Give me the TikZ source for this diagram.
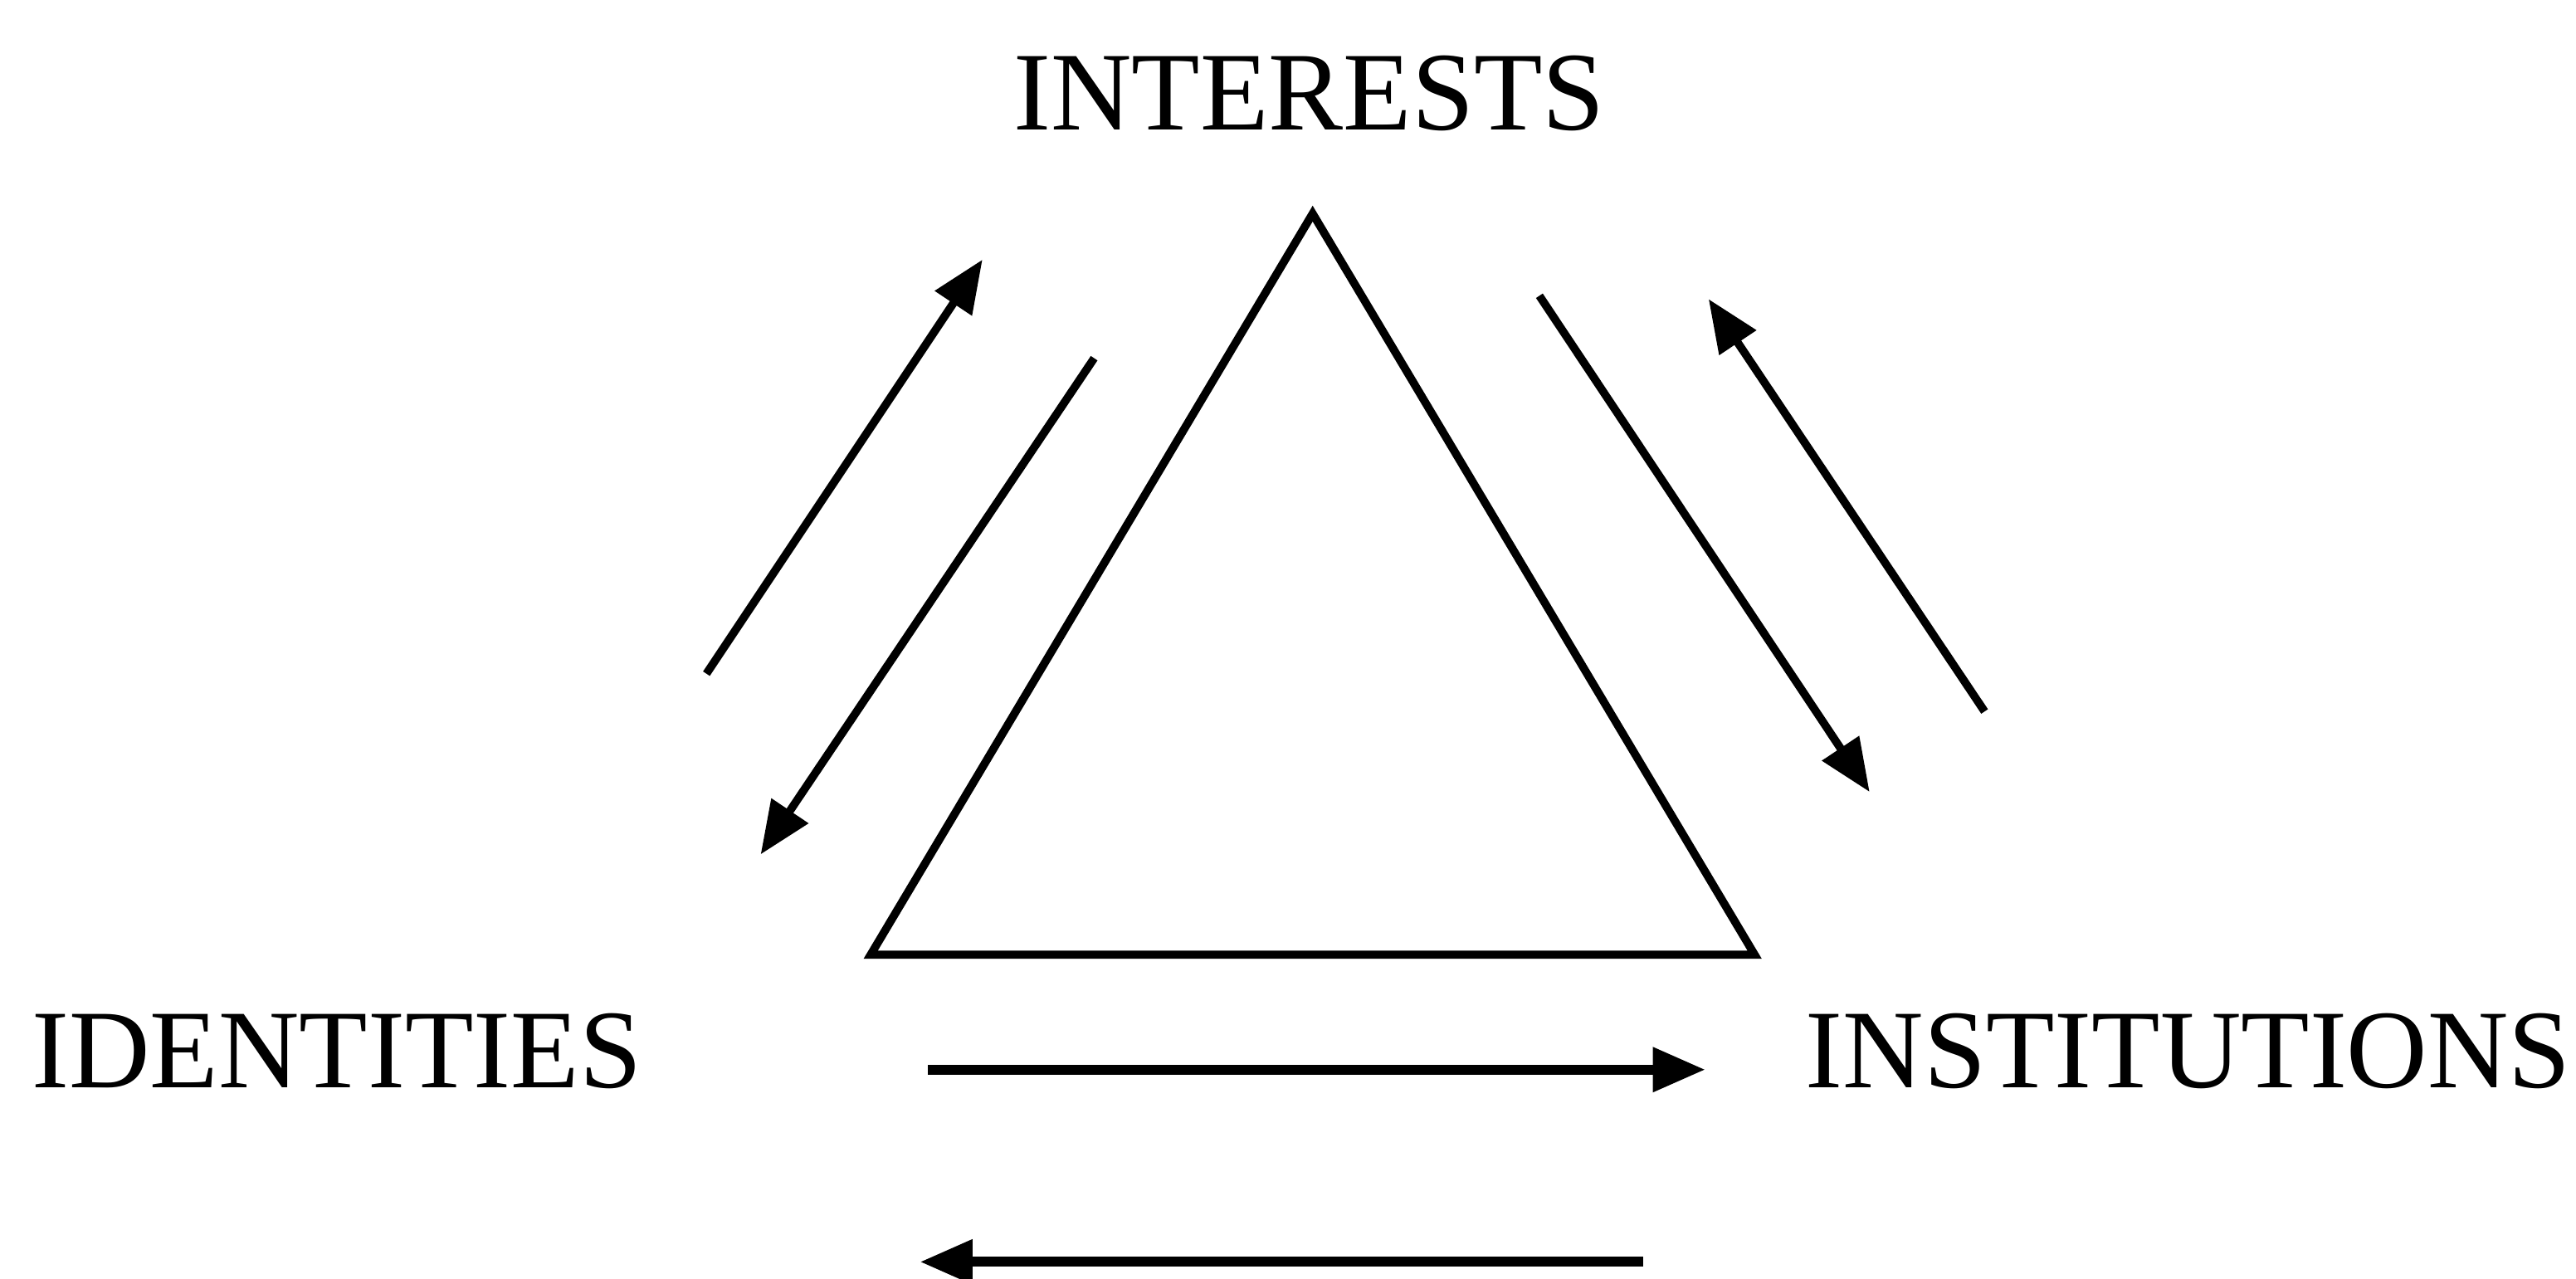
\documentclass[tikz,border=0pt]{standalone}
\usepackage{fontspec}
\setmainfont{Liberation Serif}
\usetikzlibrary{arrows.meta}

\begin{document}
\begin{tikzpicture}[font=\fontsize{19.4}{23}\selectfont,
    side/.style={line width=1.4pt, line join=miter},
    flow/.style={-{Triangle[length=0.32cm, width=0.26cm]}, line width=1.4pt}]
            \useasboundingbox (0,0) rectangle (15.68,7.78);

            \node (interests) at (7.97,7.21) {INTERESTS};
            \node (identities) at (2.05,1.38) {IDENTITIES};
            \node (institutions) at (13.32,1.38) {INSTITUTIONS};

            % triangle
            \coordinate (top) at (7.99,6.48);
            \coordinate (left) at (5.30,1.97);
            \coordinate (right) at (10.68,1.97);
            \draw[side] (top) -- (right) -- (left) -- cycle;

            % arrow ends
            \coordinate (a1) at (4.30,3.68);
            \coordinate (a2) at (5.98,6.20);
            \coordinate (b1) at (6.66,5.60);
            \coordinate (b2) at (4.63,2.58);
            \coordinate (c1) at (9.37,5.98);
            \coordinate (c2) at (11.38,2.96);
            \coordinate (d1) at (12.08,3.45);
            \coordinate (d2) at (10.40,5.96);
            \coordinate (e1) at (5.65,1.27);
            \coordinate (e2) at (10.38,1.27);
            \coordinate (f1) at (10.00,0.10);
            \coordinate (f2) at (5.60,0.10);

            \draw[flow] (a1) -- (a2);
            \draw[flow] (b1) -- (b2);
            \draw[flow] (c1) -- (c2);
            \draw[flow] (d1) -- (d2);
            \draw[flow, line width=1.7pt] (e1) -- (e2);
            \draw[flow, line width=1.7pt] (f1) -- (f2);
        \end{tikzpicture}
\end{document}
